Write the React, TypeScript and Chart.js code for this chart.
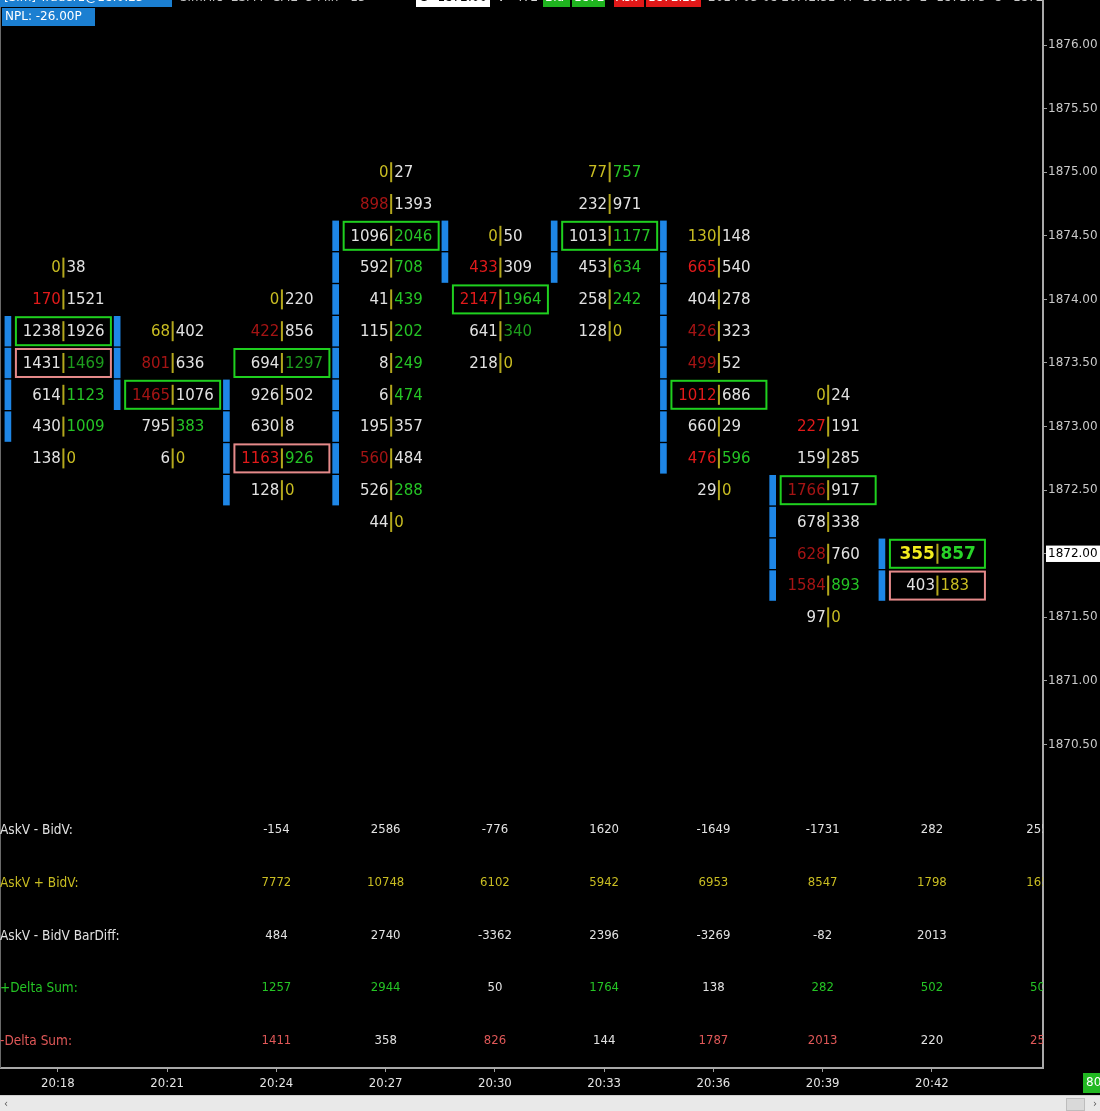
import React, { useEffect, useRef } from 'react';
import { Chart, registerables } from 'chart.js';

Chart.register(...registerables);

// ---------- data ----------
const columnMinutes = [18, 21, 24, 27, 30, 33, 36, 39, 42];
const timeTickLabels = ['20:18', '20:21', '20:24', '20:27', '20:30', '20:33', '20:36', '20:39', '20:42'];
const priceTicks = [1876, 1875.5, 1875, 1874.5, 1874, 1873.5, 1873, 1872.5, 1872, 1871.5, 1871, 1870.5];
const tickSize = 0.25;
const lastPrice = 1872.0;

const topPrices = [1874.25, 1873.75, 1874.0, 1875.0, 1874.5, 1875.0, 1874.5, 1873.25, 1872.0];
const bidVolumes = [
  [0, 170, 1238, 1431, 614, 430, 138],
  [68, 801, 1465, 795, 6],
  [0, 422, 694, 926, 630, 1163, 128],
  [0, 898, 1096, 592, 41, 115, 8, 6, 195, 560, 526, 44],
  [0, 433, 2147, 641, 218],
  [77, 232, 1013, 453, 258, 128],
  [130, 665, 404, 426, 499, 1012, 660, 476, 29],
  [0, 227, 159, 1766, 678, 628, 1584, 97],
  [355, 403],
];
const askVolumes = [
  [38, 1521, 1926, 1469, 1123, 1009, 0],
  [402, 636, 1076, 383, 0],
  [220, 856, 1297, 502, 8, 926, 0],
  [27, 1393, 2046, 708, 439, 202, 249, 474, 357, 484, 288, 0],
  [50, 309, 1964, 340, 0],
  [757, 971, 1177, 634, 242, 0],
  [148, 540, 278, 323, 52, 686, 29, 596, 0],
  [24, 191, 285, 917, 338, 760, 893, 0],
  [857, 183],
];
// Y = zero/edge, R = strong seller, D = seller, G = strong buyer, g = buyer, W = neutral
const bidTones = ['YRWWWWW', 'YDDWW', 'YDWWWRW', 'YDWWWWWWWDWW', 'YRRWW', 'YWWWWW', 'YRWDDRWRW', 'YRWDWDDW', 'YW'];
const askTones = ['WWWgGGY', 'WWWGY', 'WWgWWGY', 'WWGGGGGGWWGY', 'WWGgY', 'GWGGGY', 'WWWWWWWGY', 'WWWWWWGY', 'GY'];
// G = green imbalance box, P = pink imbalance box
const imbalanceMarks = ['..GP...', '..G..', '..G..P.', '..G.........', '..G..', '..G...', '.....G...', '...G....', 'GP'];
const candleHigh = [1873.75, 1873.75, 1873.25, 1874.5, 1874.5, 1874.5, 1874.5, 1872.5, 1872.0];
const candleLow = [1873.0, 1873.25, 1872.5, 1872.5, 1874.25, 1874.25, 1872.75, 1871.75, 1871.75];

const statMinutes = [24, 27, 30, 33, 36, 39, 42, 45];
const statLabels = ['AskV - BidV:', 'AskV + BidV:', 'AskV - BidV BarDiff:', '+Delta Sum:', '-Delta Sum:'];
const statLabelTones = ['W', 'Y', 'W', 'G', 'P'];
const askMinusBid = [-154, 2586, -776, 1620, -1649, -1731, 282, 2550];
const askPlusBid = [7772, 10748, 6102, 5942, 6953, 8547, 1798, 1650];
const barDiff = [484, 2740, -3362, 2396, -3269, -82, 2013, null];
const plusDeltaSum = [1257, 2944, 50, 1764, 138, 282, 502, 500];
const minusDeltaSum = [1411, 358, 826, 144, 1787, 2013, 220, 250];
const statTones = ['WWWWWWWW', 'YYYYYYYY', 'WWWWWWWW', 'GGWGWGGG', 'PWPWPPWP'];

// ---------- layout constants ----------
const X_MIN = 16.41;
const X_MAX = 45.05;
const Y_MIN = 1867.957;
const Y_MAX = 1876.354;
const BAR_SHIFT = -1.373; // minutes left of column centre
const STAT_ROW_Y = [830, 883, 936, 988, 1041];

function toneColor(t: string): string {
  switch (t) {
    case 'Y': return '#c9bd22';
    case 'R': return '#e01a1a';
    case 'D': return '#a51414';
    case 'G': return '#25c425';
    case 'g': return '#1d9c1d';
    case 'P': return '#e05858';
    default: return '#e2e2e2';
  }
}

type Cell = {
  minute: number; price: number; bid: number; ask: number;
  bidTone: string; askTone: string; mark: string; current: boolean;
};

function buildCells(): Cell[] {
  const cells: Cell[] = [];
  columnMinutes.forEach((m, c) => {
    bidVolumes[c].forEach((b, r) => {
      const price = topPrices[c] - r * tickSize;
      cells.push({
        minute: m, price, bid: b, ask: askVolumes[c][r],
        bidTone: bidTones[c][r], askTone: askTones[c][r], mark: imbalanceMarks[c][r],
        current: c === columnMinutes.length - 1 && price === lastPrice,
      });
    });
  });
  return cells;
}

function buildSegments() {
  const segs: { x: number; y: [number, number] }[] = [];
  columnMinutes.forEach((m, c) => {
    for (let p = candleHigh[c]; p >= candleLow[c] - 1e-9; p -= tickSize) {
      segs.push({ x: m + BAR_SHIFT, y: [p - 0.117, p + 0.117] });
    }
  });
  return segs;
}

function makeFootprintPlugin(cells: Cell[]) {
  return {
    id: 'footprint',
    afterDatasetsDraw(chart: any) {
      const ctx: CanvasRenderingContext2D = chart.ctx;
      const area = chart.chartArea;
      const xs = chart.scales.x;
      const meta = chart.getDatasetMeta(1);
      ctx.save();
      ctx.fillStyle = '#6a6a6a';
      ctx.fillRect(0, 0, 1, area.bottom);

      cells.forEach((cell, i) => {
        const el = meta.data[i];
        if (!el) return;
        const px = el.x;
        const py = el.y;
        const sep = px + 5.5;
        if (cell.mark === 'G' || cell.mark === 'P') {
          ctx.strokeStyle = cell.mark === 'G' ? '#1fd01f' : '#e58a8a';
          ctx.lineWidth = 2;
          ctx.strokeRect(px - 42, py - 14, 95, 28);
        }
        ctx.textBaseline = 'middle';
        ctx.font = cell.current ? 'bold 17px "DejaVu Sans"' : '15px "DejaVu Sans"';
        ctx.textAlign = 'right';
        ctx.fillStyle = cell.current ? '#f2ec1e' : toneColor(cell.bidTone);
        ctx.fillText(String(cell.bid), sep - 2.5, py + 1);
        ctx.textAlign = 'left';
        ctx.fillStyle = cell.current ? '#28d428' : toneColor(cell.askTone);
        ctx.fillText(String(cell.ask), sep + 3, py + 1);
        ctx.fillStyle = '#b3a71c';
        ctx.fillRect(sep - 1, py - 10, 2, 20);
      });

      ctx.beginPath();
      ctx.rect(area.left, area.top, area.right - area.left, area.bottom - area.top);
      ctx.clip();
      ctx.textBaseline = 'middle';
      const rows = [askMinusBid, askPlusBid, barDiff, plusDeltaSum, minusDeltaSum];
      rows.forEach((vals, r) => {
        const y = STAT_ROW_Y[r];
        ctx.textAlign = 'left';
        ctx.font = '13.5px "DejaVu Sans Condensed", "DejaVu Sans"';
        ctx.fillStyle = toneColor(statLabelTones[r]);
        ctx.fillText(statLabels[r], 0, y);
        ctx.textAlign = 'center';
        ctx.font = '13px "DejaVu Sans Condensed", "DejaVu Sans"';
        vals.forEach((v, k) => {
          if (v === null || v === undefined) return;
          ctx.fillStyle = toneColor(statTones[r][k]);
          ctx.fillText(String(v), xs.getPixelForValue(statMinutes[k]), y);
        });
      });
      ctx.restore();
    },
    afterDraw(chart: any) {
      const ctx: CanvasRenderingContext2D = chart.ctx;
      const W = chart.width;
      const H = chart.height;
      ctx.save();
      ctx.font = '12px "DejaVu Sans"';
      ctx.textBaseline = 'middle';
      ctx.textAlign = 'left';
      const y1 = -2;
      ctx.fillStyle = '#1b7fd1';
      ctx.fillRect(0, -10, 172, 17);
      ctx.fillStyle = '#ffffff';
      ctx.fillText('[Sim] Trader1@18:0:23', 4, y1);
      ctx.fillStyle = '#c8c8c8';
      ctx.fillText('SimFirs  ESM4  CME  3 Min  -15', 180, y1);
      ctx.fillStyle = '#ffffff';
      ctx.fillRect(416, -10, 74, 17);
      ctx.fillStyle = '#000000';
      ctx.fillText('C=1872.00', 419, y1);
      ctx.fillStyle = '#d8d8d8';
      ctx.fillText('V=472', 497, y1);
      ctx.fillStyle = '#1fb41f';
      ctx.fillRect(543, -10, 27, 17);
      ctx.fillRect(572, -10, 33, 17);
      ctx.fillStyle = '#e01818';
      ctx.fillRect(614, -10, 30, 17);
      ctx.fillRect(646, -10, 55, 17);
      ctx.fillStyle = '#ffffff';
      ctx.fillText('Bid', 545, y1);
      ctx.fillText('1872', 574, y1);
      ctx.fillText('Ask', 616, y1);
      ctx.fillText('1872.25', 648, y1);
      ctx.save();
      ctx.beginPath();
      ctx.rect(0, -20, 1043, 40);
      ctx.clip();
      ctx.fillStyle = '#c8c8c8';
      ctx.fillText('2014-05-08 20:42:51  H=1872.00  L=1871.75  O=1872.00', 708, y1);
      ctx.restore();
      ctx.fillStyle = '#1b7fd1';
      ctx.fillRect(2, 8, 93, 18);
      ctx.fillStyle = '#ffffff';
      ctx.fillText('NPL: -26.00P', 5, 17);

      ctx.fillStyle = '#e9e9e9';
      ctx.fillRect(0, 1096, W, H - 1096);
      ctx.fillStyle = '#cfcfcf';
      ctx.fillRect(0, 1095, W, 1);
      ctx.fillStyle = '#d9d9d9';
      ctx.fillRect(1066, 1098, 18, 12);
      ctx.strokeStyle = '#bdbdbd';
      ctx.lineWidth = 1;
      ctx.strokeRect(1066.5, 1098.5, 18, 12);
      ctx.fillStyle = '#555555';
      ctx.font = '10px "DejaVu Sans"';
      ctx.fillText('‹', 4, 1104);
      ctx.fillText('›', 1093, 1104);
      ctx.fillStyle = '#22b822';
      ctx.fillRect(1083, 1073, 17, 20);
      ctx.fillStyle = '#ffffff';
      ctx.font = '12px "DejaVu Sans"';
      ctx.fillText('80', 1086, 1083);
      ctx.restore();
    },
  };
}

export default function App() {
  const canvasRef = useRef<HTMLCanvasElement | null>(null);

  useEffect(() => {
    const canvas = canvasRef.current;
    if (!canvas) return;
    const cells = buildCells();
    const chart: any = new Chart(canvas, {
      type: 'bar',
      data: {
        datasets: [
          {
            type: 'bar',
            data: buildSegments() as any,
            backgroundColor: '#1e86e6',
            borderWidth: 0,
            barThickness: 6,
            grouped: false,
          } as any,
          {
            type: 'scatter',
            data: cells.map((c) => ({ x: c.minute, y: c.price })),
            pointRadius: 0,
            pointHoverRadius: 0,
            showLine: false,
          } as any,
        ],
      },
      options: {
        responsive: false,
        animation: false,
        devicePixelRatio: 1,
        events: [],
        layout: { padding: 0 },
        plugins: { legend: { display: false }, tooltip: { enabled: false } },
        scales: {
          x: {
            type: 'linear',
            position: 'bottom',
            min: X_MIN,
            max: X_MAX,
            offset: false,
            afterBuildTicks: (scale: any) => {
              scale.ticks = columnMinutes.map((v) => ({ value: v }));
            },
            afterFit: (scale: any) => {
              scale.height = 43;
              scale.paddingLeft = 0;
              scale.paddingRight = 0;
            },
            ticks: {
              autoSkip: false,
              maxRotation: 0,
              padding: 4,
              color: '#e4e4e4',
              font: { family: '"DejaVu Sans Condensed", "DejaVu Sans"', size: 13 },
              callback: (_v: any, i: number) => timeTickLabels[i],
            },
            grid: {
              display: true,
              drawOnChartArea: false,
              drawTicks: true,
              tickLength: 4,
              color: '#a0a0a0',
              offset: false,
            },
            border: { display: true, color: '#a8a8a8', width: 2 },
          },
          y: {
            type: 'linear',
            position: 'right',
            min: Y_MIN,
            max: Y_MAX,
            beginAtZero: false,
            afterBuildTicks: (scale: any) => {
              scale.ticks = priceTicks.map((v) => ({ value: v }));
            },
            afterFit: (scale: any) => {
              scale.width = 57;
              scale.paddingTop = 0;
              scale.paddingBottom = 0;
            },
            ticks: {
              padding: 1,
              font: { family: 'DejaVu Sans', size: 12 },
              color: (c: any) => (c.tick && c.tick.value === lastPrice ? '#000000' : '#c9c9c9'),
              showLabelBackdrop: (c: any) => !!(c.tick && c.tick.value === lastPrice),
              backdropColor: '#ffffff',
              backdropPadding: { top: 1, bottom: 1, left: 2, right: 4 },
              callback: (v: any) => Number(v).toFixed(2),
            },
            grid: {
              display: true,
              drawOnChartArea: false,
              drawTicks: true,
              tickLength: 4,
              color: '#a0a0a0',
            },
            border: { display: true, color: '#a8a8a8', width: 2 },
          },
        },
      } as any,
      plugins: [makeFootprintPlugin(cells)],
    });
    return () => chart.destroy();
  }, []);

  return (
    <div style={{ position: 'fixed', left: 0, top: 0, width: 1100, height: 1111, background: '#000', overflow: 'hidden' }}>
      <canvas ref={canvasRef} width={1100} height={1111} style={{ display: 'block', width: 1100, height: 1111 }} />
    </div>
  );
}
